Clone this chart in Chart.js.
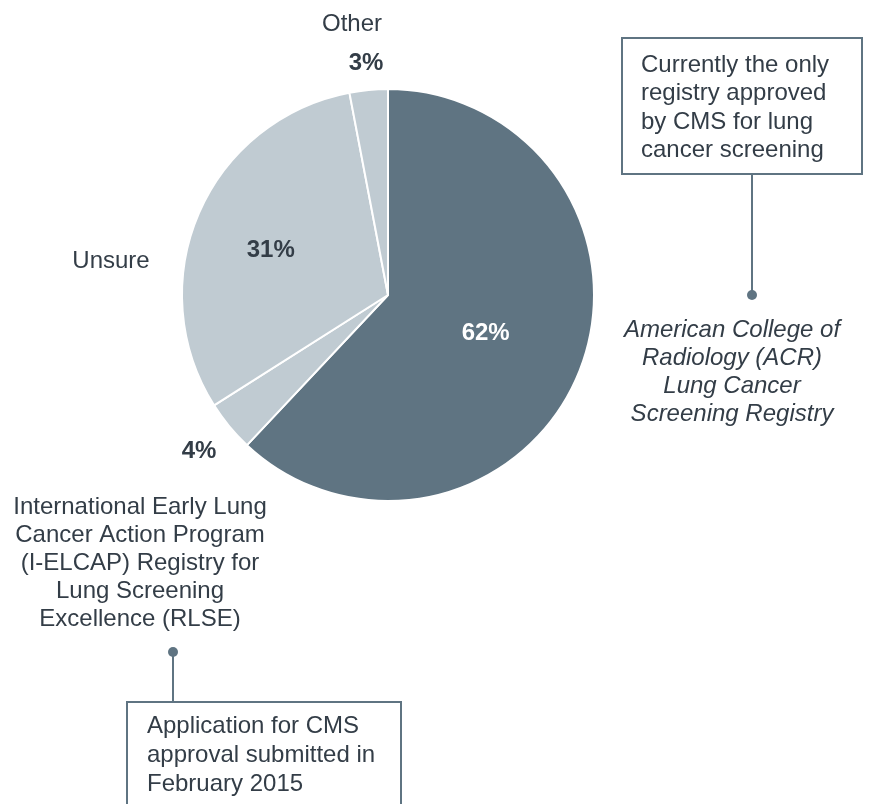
<!DOCTYPE html>
<html>
<head>
<meta charset="utf-8">
<script src="https://cdn.jsdelivr.net/npm/chart.js@4.4.1/dist/chart.umd.min.js"></script>
<style>
  html, body { margin: 0; padding: 0; background: #fff; }
  #c { display: block; }
</style>
</head>
<body>
<canvas id="c" width="871" height="804"></canvas>
<script>
// registry share, clockwise from 12 o'clock
const categories = ["ACR Lung Cancer Screening Registry", "I-ELCAP RLSE", "Unsure", "Other"];
const shares = [62, 4, 31, 3];
const sliceColors = ["#5f7482", "#c0cbd2", "#c0cbd2", "#c0cbd2"];

const ink = "#333d47";
const accent = "#5f7482";
const FONT = "'Liberation Sans', Arial, sans-serif";

// where each percent label sits: fraction of radius from centre, plus a small nudge
const labelRadius = [0.51, 1.19, 0.62, 1.13];
const labelNudgeY = [0, 0, 6, 0];
const labelColor = ["#ffffff", ink, ink, ink];

function text(ctx, str, x, y, opts) {
  ctx.save();
  ctx.font = (opts.style || "") + " " + (opts.weight || "normal") + " " + (opts.size || 24) + "px " + FONT;
  ctx.fillStyle = opts.color || ink;
  ctx.textAlign = opts.align || "center";
  ctx.textBaseline = "middle";
  ctx.fillText(str, x, y);
  ctx.restore();
}

function lines(ctx, arr, x, y0, step, opts) {
  arr.forEach((s, i) => text(ctx, s, x, y0 + i * step, opts));
}

function callout(ctx, box, lineX, fromY, toY) {
  ctx.save();
  ctx.strokeStyle = accent;
  ctx.lineWidth = 2;
  ctx.strokeRect(box.x, box.y, box.w, box.h);
  ctx.beginPath();
  ctx.moveTo(lineX, fromY);
  ctx.lineTo(lineX, toY);
  ctx.stroke();
  ctx.fillStyle = accent;
  ctx.beginPath();
  ctx.arc(lineX, toY, 5, 0, Math.PI * 2);
  ctx.fill();
  ctx.restore();
}

const annotations = {
  id: "annotations",
  afterDraw(chart) {
    const ctx = chart.ctx;
    const arcs = chart.getDatasetMeta(0).data;
    arcs.forEach((arc, i) => {
      const mid = (arc.startAngle + arc.endAngle) / 2;
      const r = arc.outerRadius * labelRadius[i];
      text(ctx, shares[i] + "%", arc.x + Math.cos(mid) * r, arc.y + Math.sin(mid) * r + labelNudgeY[i],
        { weight: "bold", color: labelColor[i] });
    });

    text(ctx, "Other", 352, 24, {});
    text(ctx, "Unsure", 111, 261, {});

    lines(ctx, ["International Early Lung", "Cancer Action Program", "(I-ELCAP) Registry for",
      "Lung Screening", "Excellence (RLSE)"], 140, 507, 28, {});

    lines(ctx, ["American College of", "Radiology (ACR)", "Lung Cancer", "Screening Registry"],
      732, 330, 28, { style: "italic" });

    callout(ctx, { x: 622, y: 38, w: 240, h: 136 }, 752, 174, 295);
    lines(ctx, ["Currently the only", "registry approved", "by CMS for lung", "cancer screening"],
      641, 65, 28.5, { align: "left" });

    callout(ctx, { x: 127, y: 702, w: 274, h: 120 }, 173, 702, 652);
    lines(ctx, ["Application for CMS", "approval submitted in", "February 2015"],
      147, 726, 29, { align: "left" });
  }
};

new Chart(document.getElementById("c"), {
  type: "pie",
  data: {
    labels: categories,
    datasets: [{
      data: shares,
      backgroundColor: sliceColors,
      borderColor: "#ffffff",
      borderWidth: 2,
      hoverOffset: 0
    }]
  },
  options: {
    responsive: false,
    animation: false,
    layout: { padding: { left: 181, top: 88, right: 276, bottom: 302 } },
    plugins: { legend: { display: false }, tooltip: { enabled: false } }
  },
  plugins: [annotations]
});
</script>
</body>
</html>
